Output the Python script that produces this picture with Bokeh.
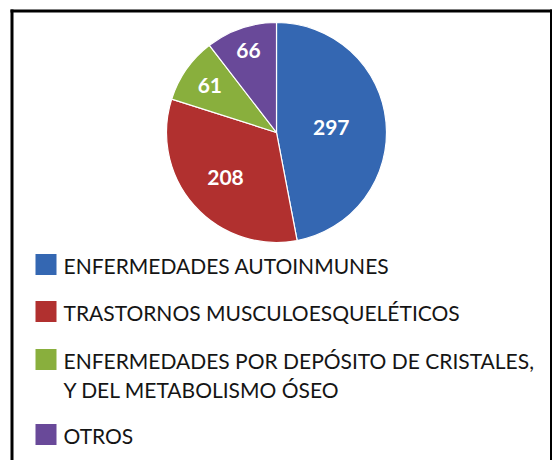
import math
from bokeh.plotting import figure
from bokeh.models import Range1d, ColumnDataSource
from bokeh.core.properties import value
from bokeh.embed import file_html
from bokeh.resources import INLINE

# ---- data ----
categories = ["ENFERMEDADES AUTOINMUNES",
              "TRASTORNOS MUSCULOESQUELÉTICOS",
              "ENFERMEDADES POR DEPÓSITO DE CRISTALES,\nY DEL  METABOLISMO ÓSEO",
              "OTROS"]
counts = [297, 208, 61, 66]
colors = ["#3467B2", "#B1302F", "#89AF3D", "#694999"]

# ---- layout (pixel-like data units) ----
W, H = 552, 460
cx, cy, R = 276, 328, 110
label_frac = [0.50, 0.62, 0.74, 0.79]

p = figure(width=W, height=H, output_backend="svg", toolbar_location=None,
           x_range=Range1d(0, W), y_range=Range1d(0, H), min_border=0,
           outline_line_color=None)
p.axis.visible = False
p.grid.visible = False
p.background_fill_color = "white"
p.border_fill_color = "white"

total = sum(counts)
starts, ends, lx, ly = [], [], [], []
acc = 0
for i, c in enumerate(counts):
    a0 = math.pi / 2 - 2 * math.pi * acc / total
    a1 = math.pi / 2 - 2 * math.pi * (acc + c) / total
    starts.append(a0)
    ends.append(a1)
    mid = (a0 + a1) / 2
    lx.append(cx + R * label_frac[i] * math.cos(mid))
    ly.append(cy + R * label_frac[i] * math.sin(mid))
    acc += c

src = ColumnDataSource(dict(x=[cx] * len(counts), y=[cy] * len(counts),
                            start=starts, end=ends, color=colors,
                            lx=lx, ly=ly, txt=[str(c) for c in counts]))
p.wedge(x="x", y="y", radius=R, start_angle="start", end_angle="end",
        direction="clock", fill_color="color", line_color="white",
        line_width=1.2, source=src)
p.text(x="lx", y="ly", text="txt", source=src, text_color="white",
       text_font=value("Lato"), text_font_style="bold", text_font_size="21px",
       text_align="center", text_baseline="middle")

# ---- legend ----
row_y = [196, 149, 101, 26]
sq_x = 45.5
txt_x = 63
line_gap = 28.5
for i, cat in enumerate(categories):
    p.rect(x=sq_x, y=row_y[i], width=21, height=21, fill_color=colors[i],
           line_color=None)
    for j, line in enumerate(cat.split("\n")):
        p.text(x=[txt_x], y=[row_y[i] - 1 - j * line_gap], text=[line],
               text_color="#151515", text_font=value("Lato"),
               text_font_size="21px", text_baseline="middle")

# ---- frame border ----
p.segment(x0=[11.5, 10, 550.5], y0=[-10, 449.5, -10],
          x1=[11.5, 551.5, 550.5], y1=[451, 449.5, 451],
          line_color="black", line_width=[3, 3, 2])

open("out.html", "w").write(file_html(p, INLINE))
